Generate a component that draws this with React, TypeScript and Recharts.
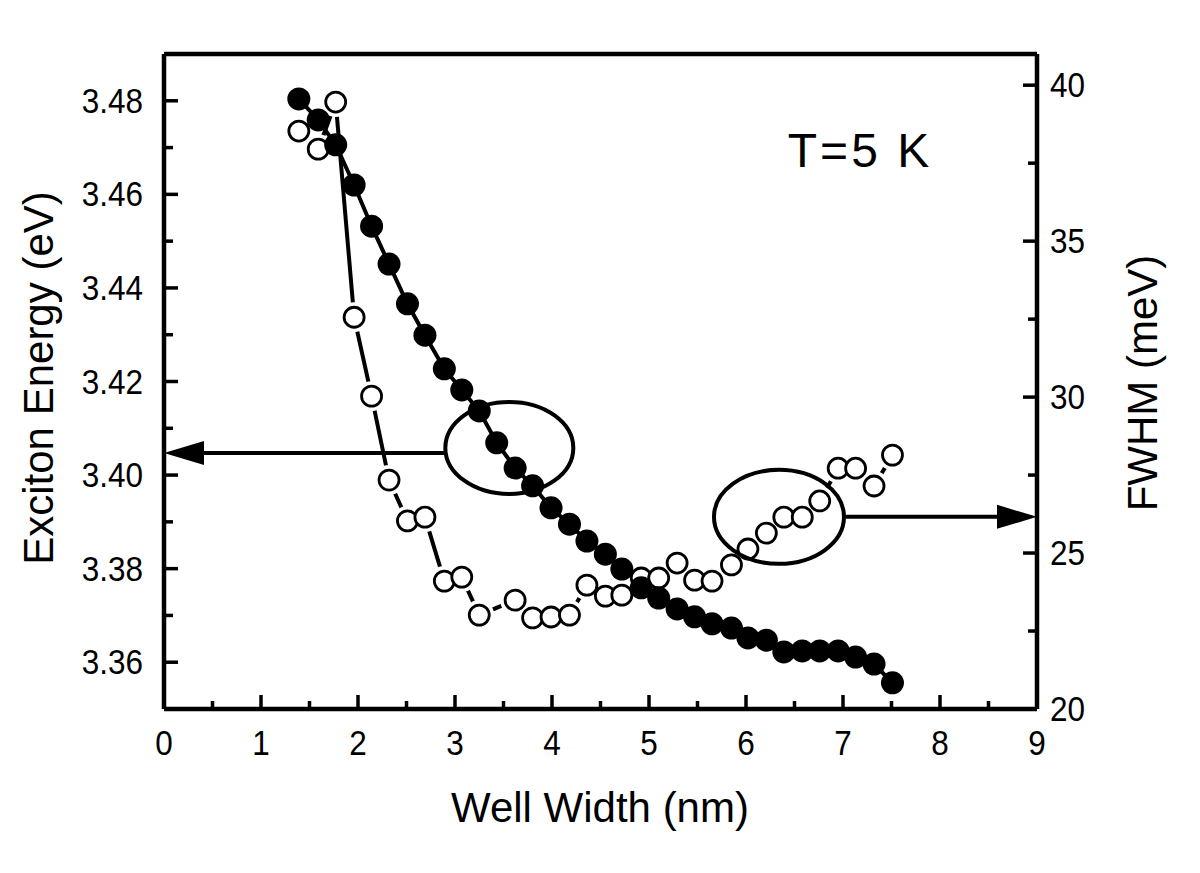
import React from "react";
import {
  ComposedChart,
  Line,
  XAxis,
  YAxis,
  ReferenceLine,
  ReferenceDot,
} from "recharts";

// well widths (nm), shared by both series
const widths = [
  1.39, 1.59, 1.77, 1.96, 2.14, 2.32, 2.51, 2.69, 2.89, 3.07, 3.25, 3.43, 3.62,
  3.8, 3.99, 4.18, 4.36, 4.55, 4.72, 4.92, 5.1, 5.29, 5.47, 5.65, 5.85, 6.02,
  6.21, 6.39, 6.58, 6.76, 6.95, 7.13, 7.32, 7.51,
];

// exciton energy (eV), filled circles, left axis
const energy = [
  3.4804, 3.4759, 3.4706, 3.462, 3.4532, 3.4451, 3.4366, 3.4299, 3.4227,
  3.4182, 3.4137, 3.4069, 3.4015, 3.3977, 3.393, 3.3895, 3.3859, 3.3831,
  3.3799, 3.3759, 3.3737, 3.3714, 3.3697, 3.3682, 3.3673, 3.3652, 3.3647,
  3.3622, 3.3624, 3.3624, 3.3624, 3.3611, 3.3596, 3.3556,
];

// FWHM (meV), open circles, right axis
const fwhm = [
  38.53, 37.95, 39.46, 32.56, 30.03, 27.34, 26.03, 26.15, 24.1, 24.23, 23.01,
  null, 23.49, 22.92, 22.95, 23.01, 23.97, 23.62, 23.65, 24.2, 24.2, 24.68,
  24.13, 24.1, 24.62, 25.13, 25.64, 26.15, 26.15, 26.67, 27.72, 27.72, 27.15,
  28.14,
];

const xTicks = [0, 0.5, 1, 1.5, 2, 2.5, 3, 3.5, 4, 4.5, 5, 5.5, 6, 6.5, 7, 7.5, 8, 8.5, 9];
const leftTicks = [3.36, 3.37, 3.38, 3.39, 3.4, 3.41, 3.42, 3.43, 3.44, 3.45, 3.46, 3.47, 3.48];
const leftLabels = [3.36, 3.38, 3.4, 3.42, 3.44, 3.46, 3.48];
const rightTicks = [20, 22.5, 25, 27.5, 30, 32.5, 35, 37.5, 40];
const rightLabels = [20, 25, 30, 35, 40];

const data = widths.map((w, i) => ({ w, energy: energy[i], fwhm: fwhm[i] }));

const FONT = "'Liberation Sans', Arial, Helvetica, sans-serif";
const TICK_FONT = 35;
const FRAME = { stroke: "#000", strokeWidth: 4.5 };

const isIn = (list: number[], v: number) => list.some((t) => Math.abs(t - v) < 1e-6);

function TickText({ x, y, anchor, children }: any) {
  return (
    <text
      transform={`translate(${x},${y}) scale(0.9,1)`}
      textAnchor={anchor}
      fontSize={TICK_FONT}
      fontFamily={FONT}
      fill="#000"
    >
      {children}
    </text>
  );
}

function BottomTick({ x, y, payload }: any) {
  const major = Number.isInteger(payload.value);
  return (
    <g>
      <line x1={x} x2={x} y1={y} y2={y - (major ? 14 : 8)} stroke="#000" strokeWidth={3.5} />
      {major && (
        <TickText x={x} y={y + 46} anchor="middle">
          {payload.value}
        </TickText>
      )}
    </g>
  );
}

function LeftTick({ x, y, payload }: any) {
  const major = isIn(leftLabels, payload.value);
  return (
    <g>
      <line x1={x} x2={x + (major ? 14 : 9)} y1={y} y2={y} stroke="#000" strokeWidth={3.5} />
      {major && (
        <TickText x={x - 21} y={y + 12} anchor="end">
          {payload.value.toFixed(2)}
        </TickText>
      )}
    </g>
  );
}

function RightTick({ x, y, payload }: any) {
  const major = isIn(rightLabels, payload.value);
  return (
    <g>
      <line x1={x} x2={x - (major ? 14 : 9)} y1={y} y2={y} stroke="#000" strokeWidth={3.5} />
      {major && (
        <TickText x={x + 13} y={y + 12} anchor="start">
          {payload.value}
        </TickText>
      )}
    </g>
  );
}

const haloDot = (p: any) =>
  p.value == null || p.cy == null ? (
    <g key={`hn${p.index}`} />
  ) : (
    <circle key={`h${p.index}`} cx={p.cx} cy={p.cy} r={15} fill="#fff" />
  );

const openDot = (p: any) =>
  p.value == null || p.cy == null ? (
    <g key={`on${p.index}`} />
  ) : (
    <circle key={`o${p.index}`} cx={p.cx} cy={p.cy} r={10} fill="#fff" stroke="#000" strokeWidth={2.8} />
  );

const filledDot = (p: any) => (
  <circle key={`f${p.index}`} cx={p.cx} cy={p.cy} r={11.5} fill="#000" />
);

// line with an arrow head at (x2, y2)
function Arrow(props: any) {
  const { x1, y1, x2, y2 } = props;
  const dir = x2 > x1 ? 1 : -1;
  const len = 40;
  const half = 12;
  return (
    <g>
      <line x1={x1} y1={y1} x2={x2 - dir * len} y2={y2} stroke="#000" strokeWidth={4} />
      <polygon
        points={`${x2},${y2} ${x2 - dir * len},${y2 - half} ${x2 - dir * len},${y2 + half}`}
        fill="#000"
      />
    </g>
  );
}

const ellipse = (rx: number, ry: number) => (p: any) => (
  <ellipse cx={p.cx} cy={p.cy} rx={rx} ry={ry} fill="none" stroke="#000" strokeWidth={4} />
);

export default function App() {
  return (
    <div style={{ position: "absolute", left: 0, top: 0, width: 1200, height: 873, background: "#fff" }}>
      <ComposedChart
        width={1200}
        height={873}
        data={data}
        margin={{ top: 54, right: 103, bottom: 104, left: 104 }}
      >
        <XAxis
          type="number"
          dataKey="w"
          domain={[0, 9]}
          ticks={xTicks}
          interval={0}
          height={60}
          tickSize={0}
          tickMargin={0}
          axisLine={FRAME}
          tick={(p: any) => <BottomTick {...p} />}
        />
        <YAxis
          yAxisId="left"
          orientation="left"
          domain={[3.35, 3.49]}
          ticks={leftTicks}
          interval={0}
          width={60}
          tickSize={0}
          tickMargin={0}
          axisLine={FRAME}
          tick={(p: any) => <LeftTick {...p} />}
        />
        <YAxis
          yAxisId="right"
          orientation="right"
          domain={[20, 41]}
          ticks={rightTicks}
          interval={0}
          width={60}
          tickSize={0}
          tickMargin={0}
          axisLine={FRAME}
          tick={(p: any) => <RightTick {...p} />}
        />
        <ReferenceLine yAxisId="left" y={3.49} stroke="#000" strokeWidth={4.5} />

        <Line
          yAxisId="right"
          dataKey="fwhm"
          type="linear"
          stroke="#000"
          strokeWidth={4}
          connectNulls
          dot={haloDot}
          activeDot={false}
          isAnimationActive={false}
        />
        <Line
          yAxisId="right"
          dataKey="fwhm"
          type="linear"
          stroke="none"
          dot={openDot}
          activeDot={false}
          isAnimationActive={false}
        />
        <Line
          yAxisId="left"
          dataKey="energy"
          type="linear"
          stroke="#000"
          strokeWidth={4}
          dot={filledDot}
          activeDot={false}
          isAnimationActive={false}
        />

        <ReferenceDot yAxisId="left" x={3.56} y={3.4058} r={1} shape={ellipse(64, 46)} />
        <ReferenceLine
          yAxisId="left"
          segment={[
            { x: 2.9, y: 3.4047 },
            { x: 0, y: 3.4047 },
          ]}
          shape={(p: any) => <Arrow {...p} />}
        />
        <ReferenceDot yAxisId="right" x={6.34} y={26.16} r={1} shape={ellipse(65, 47)} />
        <ReferenceLine
          yAxisId="right"
          segment={[
            { x: 7.02, y: 26.16 },
            { x: 9, y: 26.16 },
          ]}
          shape={(p: any) => <Arrow {...p} />}
        />
      </ComposedChart>

      <svg
        width={1200}
        height={873}
        style={{ position: "absolute", left: 0, top: 0, pointerEvents: "none" }}
      >
        <text x={600} y={822} textAnchor="middle" fontSize={42} fontFamily={FONT} fill="#000">
          Well Width (nm)
        </text>
        <text
          transform="translate(53,378) rotate(-90)"
          textAnchor="middle"
          fontSize={42}
          fontFamily={FONT}
          fill="#000"
        >
          Exciton Energy (eV)
        </text>
        <text
          transform="translate(1157,383) rotate(-90)"
          textAnchor="middle"
          fontSize={42}
          fontFamily={FONT}
          fill="#000"
        >
          FWHM (meV)
        </text>
        <text
          x={860}
          y={167}
          textAnchor="middle"
          fontSize={48}
          letterSpacing={3}
          fontFamily={FONT}
          fill="#000"
        >
          T=5 K
        </text>
      </svg>
    </div>
  );
}
